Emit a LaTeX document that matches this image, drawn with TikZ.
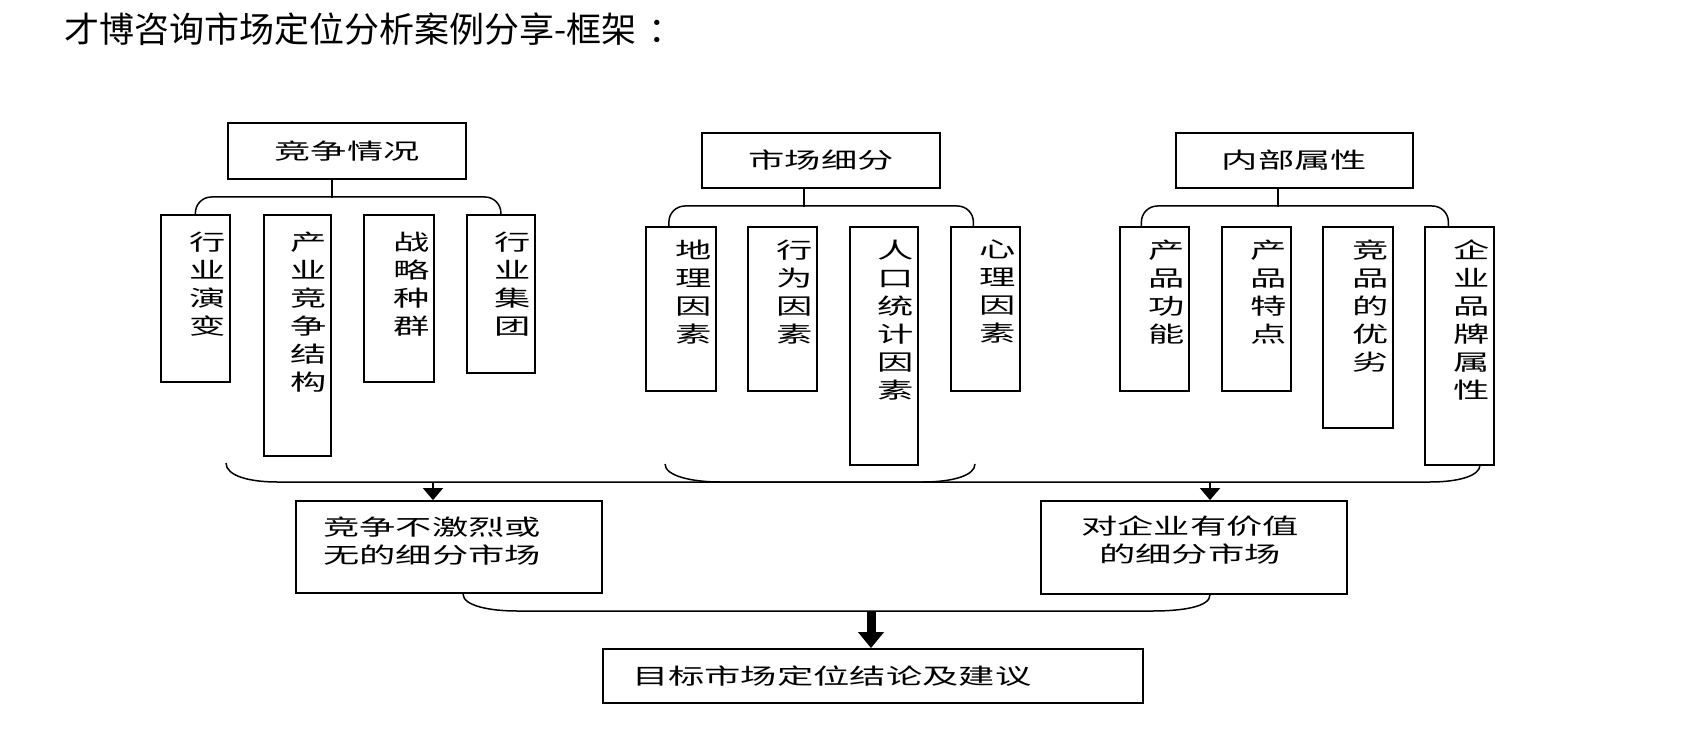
\documentclass[tikz,border=0pt]{standalone}
\usepackage{fontspec}
\newfontfamily\cjk{Noto Sans CJK SC}
\newfontfamily\cjkw[FakeStretch=1.65]{Noto Sans CJK SC}
\usetikzlibrary{arrows.meta}
\newcommand\mkcol[7]{%
  \node[box, anchor=north west, minimum width=#4-#2, minimum height=#5-#3] (#1) at (#2,#3) {};
  \node[vlbl, anchor=north east] (#1t) at ([xshift=-5pt,yshift=-#7pt]#1.north east) {#6};}
\begin{document}
\begin{tikzpicture}[x=1pt,y=-1pt,
  box/.style={draw, line width=1.8pt, inner sep=0pt},
  conn/.style={line width=1.5pt},
  lbl/.style={font=\cjkw\fontsize{22}{28}\selectfont},
  vlbl/.style={font=\cjkw\fontsize{22}{28}\selectfont, inner sep=0pt, align=center},
  arr/.style={conn, -{Triangle[width=20pt,length=12pt]}},
  bigarr/.style={line width=9pt, -{Triangle[width=25pt,length=16pt]}}]
\fill[white] (0,0) rectangle (1703,746);
\useasboundingbox (0,0) rectangle (1703,746);

\node[font=\cjk\fontsize{35}{40}\selectfont, anchor=west, inner sep=0pt] (title) at (64,29) {才博咨询市场定位分析案例分享-框架\kern 12pt：};

% headings
\node[box, lbl, minimum width=238, minimum height=56] (p1) at (347,151) {竞争情况};
\node[box, lbl, minimum width=238, minimum height=55] (p2) at (821,160.5) {市场细分};
\node[box, lbl, minimum width=237, minimum height=55] (p3) at (1294.5,160.5) {内部属性};

% group 1
\mkcol{a1}{160}{214}{229}{381}{行\\业\\演\\变}{18}
\mkcol{a2}{263}{214}{330}{455}{产\\业\\竞\\争\\结\\构}{18}
\mkcol{a3}{363}{214}{433}{381}{战\\略\\种\\群}{18}
\mkcol{a4}{466}{214}{534}{372}{行\\业\\集\\团}{18}
% group 2
\mkcol{b1}{645}{226}{715}{390}{地\\理\\因\\素}{14}
\mkcol{b2}{747}{226}{816}{390}{行\\为\\因\\素}{14}
\mkcol{b3}{849}{226}{917}{464}{人\\口\\统\\计\\因\\素}{14}
\mkcol{b4}{950}{226}{1019}{390}{心\\理\\因\\素}{14}
% group 3
\mkcol{c1}{1119}{226}{1188}{390}{产\\品\\功\\能}{14}
\mkcol{c2}{1221}{226}{1290}{390}{产\\品\\特\\点}{14}
\mkcol{c3}{1322}{226}{1392}{427}{竞\\品\\的\\优\\劣}{14}
\mkcol{c4}{1424}{226}{1493}{464}{企\\业\\品\\牌\\属\\性}{14}

% stems and bars
\draw[conn] ([xshift=-15pt]p1.south) -- ++(0,18);
\draw[conn, rounded corners=16pt] (a1.north) -- ++(0,-17) -| (a4.north);
\draw[conn] ([xshift=-17pt]p2.south) -- ++(0,18);
\draw[conn, rounded corners=16pt] ([xshift=-12pt]b1.north) -- ++(0,-20) -| ([xshift=-12pt]b4.north);
\draw[conn] ([xshift=-16.5pt]p3.south) -- ++(0,18);
\draw[conn, rounded corners=16pt] ([xshift=-13pt]c1.north) -- ++(0,-20) -| ([xshift=-11pt]c4.north);

% result boxes
\node[box, minimum width=306, minimum height=92] (d1) at (449,547) {};
\node[lbl, inner sep=0pt, align=left, anchor=west] (d1t) at ([xshift=28pt,yshift=6pt]d1.west) {竞争不激烈或\\无的细分市场};
\node[box, minimum width=306, minimum height=93] (d2) at (1194,547.5) {};
\node[lbl, inner sep=0pt, align=center] (d2t) at ([xshift=-4pt,yshift=7pt]d2.center) {对企业有价值\\的细分市场};
\node[box, lbl, minimum width=540, minimum height=54, text width=482, inner xsep=29pt, align=left] (e) at (873,676) {目标市场定位结论及建议};

% lower braces
\coordinate (bl) at (226,463);
\coordinate (br) at (1480,465);
\coordinate (ml) at (665,464);
\coordinate (mr) at (975,464);
\draw[conn] (bl) .. controls (226,476) and (250,482) .. (277,482) -- (1430,482) .. controls (1458,482) and (1480,476) .. (br);
\draw[conn] (ml) .. controls (665,476) and (692,482) .. (720,482) -- (923,482) .. controls (951,482) and (975,476) .. (mr);
\coordinate (s1) at (433,482);
\coordinate (s2) at (1210,482);
\draw[arr] (s1) -- (s1 |- d1.north);
\draw[arr] (s2) -- (s2 |- d2.north);

\draw[conn] ([xshift=14pt]d1.south) .. controls +(0,12) and (490,611) .. (517,611) -- (1153,611) .. controls (1182,611) and +(0,12) .. ([xshift=16pt]d2.south);
\coordinate (m) at (871,611);
\draw[bigarr] (m) -- (m |- e.north);
\end{tikzpicture}
\end{document}
